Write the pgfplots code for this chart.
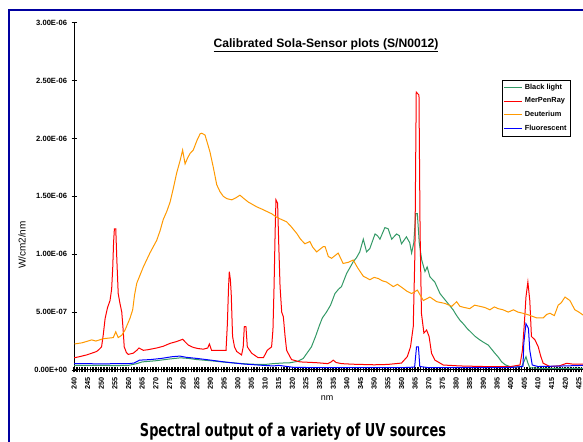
\documentclass[border=0pt]{standalone}
\usepackage{fontspec}
\setmainfont{Liberation Sans}
\newfontfamily\capfont{DejaVu Sans Condensed}
\usepackage{graphicx}
\usepackage{pgfplots}
\pgfplotsset{compat=1.18}
\definecolor{blgreen}{RGB}{51,153,102}
\definecolor{deut}{RGB}{255,153,0}
\definecolor{framec}{RGB}{0,0,160}
\begin{document}
\begin{tikzpicture}[x=1bp,y=1bp]
\path[use as bounding box] (0,0) rectangle (583,442);
\draw[framec, line width=2.2bp] (9,-5) -- (9,432) -- (600,432);
\begin{axis}[
  at={(74bp,72bp)}, anchor=south west,
  scale only axis, width=509bp, height=347.3bp,
  xmin=240, xmax=426.5, ymin=0, ymax=3,
  axis x line*=bottom, axis y line*=left,
  axis line style={line width=1bp, black},
  ytick={0,0.5,...,3},
  yticklabels={0.00E+00,5.00E-07,1.00E-06,1.50E-06,2.00E-06,2.50E-06,3.00E-06},
  yticklabel style={font=\fontsize{7.6}{8}\selectfont\bfseries, xshift=-1bp},
  xtick={240,245,...,425},
  minor xtick={240,241,...,426},
  /pgf/number format/assume math mode=true,
  xticklabel style={rotate=90, anchor=east, font=\fontsize{7.3}{8}\selectfont\bfseries, xshift=-1bp},
  tick align=center,
  major tick length=5bp, minor tick length=5bp,
  every tick/.style={black, line width=0.8bp},
  x tick style={line width=1.6bp},
  legend style={at={(0.84,0.836)}, anchor=north west, draw=black, line width=0.6bp,
    font=\fontsize{7.4}{8.5}\selectfont\bfseries, inner sep=2bp, row sep=3bp},
  legend cell align=left,
  legend image code/.code={\draw[#1, line width=1bp] (0bp,0bp) -- (18bp,0bp);},
  every axis plot/.append style={line width=1bp},
]
\addplot[blgreen] table {
x y
240 0.040
245 0.040
250 0.040
255 0.038
260 0.040
263 0.055
265 0.070
270 0.080
275 0.095
279 0.105
282 0.100
285 0.090
290 0.080
295 0.068
300 0.058
305 0.050
310 0.048
313 0.055
316 0.060
319 0.062
322 0.075
324 0.100
325.5 0.150
327 0.200
328.5 0.290
330 0.390
331 0.450
332.5 0.500
334 0.560
335.6 0.660
337 0.700
338 0.720
339.9 0.835
341 0.880
342.3 0.935
343.5 0.970
344.7 1.020
346 1.130
347.2 1.020
348.4 1.050
350.3 1.175
351.2 1.160
352.1 1.130
353.9 1.230
355.1 1.220
356.4 1.130
358.2 1.175
359.2 1.160
360 1.090
361.8 1.150
363 1.100
363.7 1.010
364.5 1.100
365.2 1.350
365.8 1.350
366.5 1.100
367.4 0.950
368.6 0.850
369.4 0.890
370.4 0.805
372.2 0.760
374.1 0.660
376.5 0.590
378.9 0.520
380.2 0.470
381.4 0.430
382.6 0.400
384 0.360
385.7 0.320
387 0.290
388.7 0.260
390 0.240
391.8 0.215
393 0.180
394.2 0.145
395.5 0.110
396.7 0.070
398 0.045
399.7 0.030
402 0.025
404 0.030
405 0.080
405.6 0.115
406.3 0.060
407 0.020
410 0.015
415 0.015
420 0.015
426.5 0.015
};
\addlegendentry{Black light}
\addplot[red] table {
x y
240 0.105
242 0.115
244.6 0.130
246.5 0.145
248.3 0.160
249.3 0.180
250.1 0.200
250.7 0.300
251.4 0.445
252.3 0.540
253.2 0.600
253.8 0.700
254.2 0.890
254.5 1.100
254.8 1.220
255.3 1.220
255.7 0.950
256.2 0.660
256.8 0.580
257.5 0.500
258 0.350
258.4 0.200
259.2 0.150
259.9 0.135
261.7 0.145
263 0.170
263.8 0.190
265.4 0.170
267 0.175
270.3 0.190
272.7 0.205
275.2 0.230
277.5 0.245
279.8 0.265
281.9 0.215
283.7 0.195
285.5 0.185
287.4 0.180
289 0.190
289.6 0.225
290.4 0.170
293.5 0.170
295.7 0.170
296.2 0.400
296.6 0.700
296.9 0.850
297.3 0.780
297.6 0.660
298.1 0.290
298.8 0.200
299.6 0.160
301.4 0.130
302 0.200
302.4 0.375
303 0.375
303.5 0.200
305.1 0.145
307.5 0.106
309.4 0.106
310.8 0.170
312.4 0.200
312.9 0.350
313.3 0.720
313.7 1.200
314 1.470
314.6 1.440
315 1.100
315.5 0.720
316.1 0.500
316.7 0.460
317.3 0.300
317.9 0.170
319.7 0.090
322.8 0.070
328.9 0.063
333 0.055
334.2 0.070
335 0.085
336 0.065
338 0.055
342 0.050
350 0.045
355 0.048
360 0.060
362.1 0.115
363.3 0.200
364.3 0.375
364.9 1.000
365.4 2.400
366.4 2.375
366.8 1.200
367.3 0.490
368.2 0.320
369.2 0.345
370.1 0.290
371 0.145
372.2 0.086
375.3 0.043
381.4 0.035
390 0.030
400 0.030
403.4 0.043
404.3 0.170
405 0.400
405.6 0.630
406.3 0.760
407 0.600
407.6 0.290
408.9 0.260
410.1 0.200
411 0.120
411.9 0.058
414.4 0.030
418 0.037
420.5 0.058
423 0.050
426.5 0.050
};
\addlegendentry{MerPenRay}
\addplot[deut] table {
x y
240.2 0.225
243 0.235
246.5 0.260
248 0.250
250.7 0.270
252.5 0.275
254.4 0.280
255.3 0.330
256.2 0.280
257.5 0.300
258.7 0.345
260.5 0.446
261.5 0.520
262.2 0.650
263 0.750
264.2 0.820
265.4 0.890
267.8 1.010
270.3 1.120
271.5 1.200
272.7 1.300
274 1.370
275.2 1.450
276.4 1.570
277.6 1.700
279 1.820
279.8 1.900
280.7 1.780
281.6 1.830
282.5 1.870
283.7 1.900
285 1.980
286.2 2.040
286.8 2.045
288 2.030
289 1.950
289.8 1.885
291 1.755
292.3 1.600
293.5 1.540
294.7 1.500
296 1.480
297.8 1.470
299.5 1.490
300.8 1.510
302.3 1.480
303.9 1.450
305.4 1.430
306.9 1.410
308.8 1.390
310.6 1.370
312.4 1.350
314.2 1.320
316 1.300
317.9 1.280
319.5 1.240
321.6 1.180
323 1.130
324.6 1.090
326.4 1.110
327.5 1.060
328.9 1.020
331.3 1.065
332 1.065
333.2 0.980
334.4 0.965
336.8 1.010
338.6 0.920
340.5 0.930
342.3 0.950
344 0.880
346 0.810
348.4 0.780
350 0.800
351.5 0.790
353 0.770
354.5 0.760
357 0.720
358.5 0.740
360.6 0.705
362 0.680
363.7 0.660
365.8 0.690
368 0.600
370.4 0.630
372.9 0.590
375.9 0.575
378.4 0.550
380.2 0.590
381.4 0.550
383 0.540
385 0.530
386.8 0.560
388.7 0.550
390.5 0.540
392.4 0.520
394 0.545
395.4 0.530
397.2 0.520
399.1 0.500
401 0.520
402.7 0.500
404.5 0.490
406 0.480
407.8 0.465
409.5 0.450
411.9 0.450
413.2 0.480
414.4 0.490
416 0.470
417.4 0.560
418.5 0.580
419.9 0.630
421.7 0.600
423.5 0.520
425 0.500
426.5 0.475
};
\addlegendentry{Deuterium}
\addplot[blue] table {
x y
240 0.055
245 0.055
250 0.052
255 0.055
260 0.055
262 0.060
264 0.085
268 0.090
272 0.100
276 0.115
278.8 0.120
281 0.110
285 0.100
289.8 0.086
295 0.070
302 0.052
308 0.042
313 0.035
315 0.040
320.3 0.023
330 0.020
340 0.020
350 0.020
360 0.020
364.8 0.025
365.5 0.200
366.2 0.200
366.7 0.030
370 0.020
380 0.020
390 0.020
400 0.022
404.5 0.030
404.8 0.230
405.6 0.400
406.5 0.360
407 0.170
407.9 0.043
410 0.030
420 0.035
426.5 0.040
};
\addlegendentry{Fluorescent}
\end{axis}
\node[font=\fontsize{12.2}{14}\selectfont\bfseries] at (326,397) {\underline{Calibrated Sola-Sensor plots (S/N0012)}};
\node[rotate=90, font=\fontsize{10}{11}\selectfont] at (22,197) {W/cm2/nm};
\node[font=\fontsize{9}{10}\selectfont] at (327,44) {nm};
\node[anchor=base, inner sep=0pt] at (293,5) {\resizebox{306bp}{13.5bp}{\capfont\bfseries Spectral output of a variety of UV sources}};
\end{tikzpicture}
\end{document}
